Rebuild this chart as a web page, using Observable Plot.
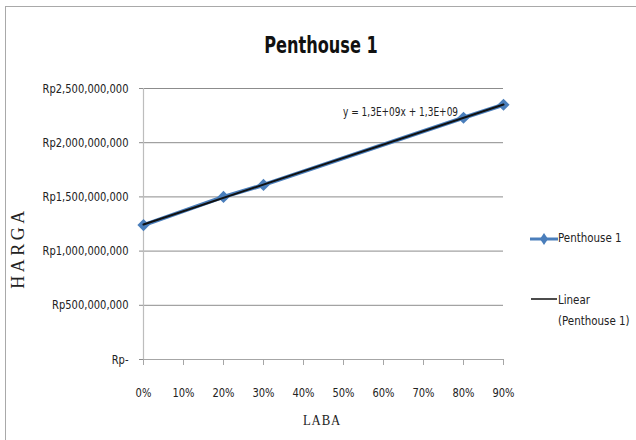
<!DOCTYPE html>
<html>
<head>
<meta charset="utf-8">
<script src="https://cdn.jsdelivr.net/npm/d3@7"></script>
<script src="https://cdn.jsdelivr.net/npm/@observablehq/plot@0.6"></script>
<style>
  html, body { margin: 0; padding: 0; background: #fff; overflow: hidden; }
  #wrap { position: relative; width: 636px; height: 440px; overflow: hidden; font-family: "DejaVu Sans Condensed", "DejaVu Sans", sans-serif; font-stretch: condensed; color: #222; }
  #border { position: absolute; left: 5px; top: 6px; width: 700px; height: 500px; border: 1.5px solid #a9a9a9; box-sizing: border-box; }
  #chart { position: absolute; left: 0; top: 0; }
  .abs { position: absolute; white-space: nowrap; }
  #title { left: 321px; top: 45px; font-weight: bold; font-size: 23px; color: #111; transform: translate(-50%, -50%) scaleX(0.78); }
  #eq { left: 343px; top: 104px; font-size: 12.5px; color: #222; transform-origin: 0 0; transform: scaleX(0.8); }
  #ylab { left: 18px; top: 248px; font-family: "Liberation Serif", "Times New Roman", serif; font-stretch: normal; font-size: 18px; transform: translate(-50%, -50%) rotate(-90deg); color: #222; letter-spacing: 3.5px; }
  #xlab { left: 322px; top: 420px; font-family: "Liberation Serif", "Times New Roman", serif; font-stretch: normal; font-size: 15px; transform: translate(-50%, -50%) scaleX(0.85); color: #222; letter-spacing: 1px; }
  .leg { font-size: 13px; color: #222; transform-origin: 0 0; transform: scaleX(0.88); }
</style>
</head>
<body>
<div id="wrap">
  <div id="border"></div>
  <div id="chart"></div>
  <div class="abs" id="title"></div>
  <div class="abs" id="eq"></div>
  <div class="abs" id="ylab"></div>
  <div class="abs" id="xlab"></div>
  <svg class="abs" style="left:528px;top:228px" width="32" height="80">
    <line x1="2" y1="11" x2="30" y2="11" stroke="#4a7ebb" stroke-width="3"/>
    <path d="M16,5 L20,11 L16,17 L12,11 Z" fill="#4a7ebb"/>
    <line x1="3" y1="71" x2="29" y2="71" stroke="#111" stroke-width="1.5"/>
  </svg>
  <div class="abs leg" id="leg1" style="left:558px;top:230px"></div>
  <div class="abs leg" id="leg2" style="left:558px;top:289px;line-height:21px"></div>
</div>
<script>
// ---- data ----
const titleText = "Penthouse 1";
const seriesName = "Penthouse 1";
const trendName = "Linear (Penthouse 1)";
const equationText = "y = 1,3E+09x + 1,3E+09";
const xTitle = "LABA";
const yTitle = "HARGA";
const laba = [0, 0.2, 0.3, 0.8, 0.9];
const harga = [1240000000, 1500000000, 1610000000, 2230000000, 2350000000];
const xTicks = [0, 0.1, 0.2, 0.3, 0.4, 0.5, 0.6, 0.7, 0.8, 0.9];
const yTicks = [0, 500000000, 1000000000, 1500000000, 2000000000, 2500000000];

const data = laba.map((x, i) => ({laba: x, harga: harga[i]}));
const fmtY = d => d === 0 ? "Rp-" : "Rp" + d3.format(",")(d);
const fmtX = d => Math.round(d * 100) + "%";

document.getElementById("title").textContent = titleText;
document.getElementById("eq").textContent = equationText;
document.getElementById("ylab").textContent = yTitle;
document.getElementById("xlab").textContent = xTitle;
document.getElementById("leg1").textContent = seriesName;
const parts = trendName.split(" ");
document.getElementById("leg2").innerHTML = parts[0] + "<br>" + parts.slice(1).join(" ");

const chart = Plot.plot({
  width: 636,
  height: 440,
  marginLeft: 143,
  marginRight: 133,
  marginTop: 88,
  marginBottom: 81,
  style: {fontFamily: '"DejaVu Sans Condensed", "DejaVu Sans", sans-serif', fontStretch: "condensed", fontSize: "13px", color: "#222", background: "transparent"},
  x: {domain: [0, 0.9]},
  y: {domain: [0, 2500000000]},
  marks: [
    Plot.gridY(yTicks, {stroke: "#8c8c8c", strokeOpacity: 1, strokeWidth: 1}),
    Plot.ruleX([0], {stroke: "#bdbdbd", strokeWidth: 1.2}),
    Plot.ruleY([0], {stroke: "#a6a6a6", strokeWidth: 1.2}),
    Plot.axisY({ticks: yTicks, tickFormat: fmtY, tickSize: 4, tickPadding: 11, stroke: "#8c8c8c", label: null, fill: "#222"}),
    Plot.axisX({ticks: xTicks, tickFormat: fmtX, tickSize: 6, tickPadding: 22, stroke: "#a6a6a6", label: null, fill: "#222"}),
    Plot.line(data, {x: "laba", y: "harga", stroke: "#4a7ebb", strokeWidth: 4}),
    Plot.dot(data, {x: "laba", y: "harga", symbol: "diamond2", r: 5.5, fill: "#4a7ebb", stroke: "none"}),
    Plot.linearRegressionY(data, {x: "laba", y: "harga", stroke: "#111", strokeWidth: 2, ci: 0})
  ]
});
document.getElementById("chart").appendChild(chart);
// compress the axis labels horizontally (the reference's narrow face)
chart.querySelectorAll('g[aria-label="y-axis tick label"] text, g[aria-label="x-axis tick label"] text').forEach(el => {
  const len = el.getComputedTextLength();
  if (len > 0) {
    el.setAttribute("textLength", (len * 0.85).toFixed(2));
    el.setAttribute("lengthAdjust", "spacingAndGlyphs");
  }
});
</script>
</body>
</html>
